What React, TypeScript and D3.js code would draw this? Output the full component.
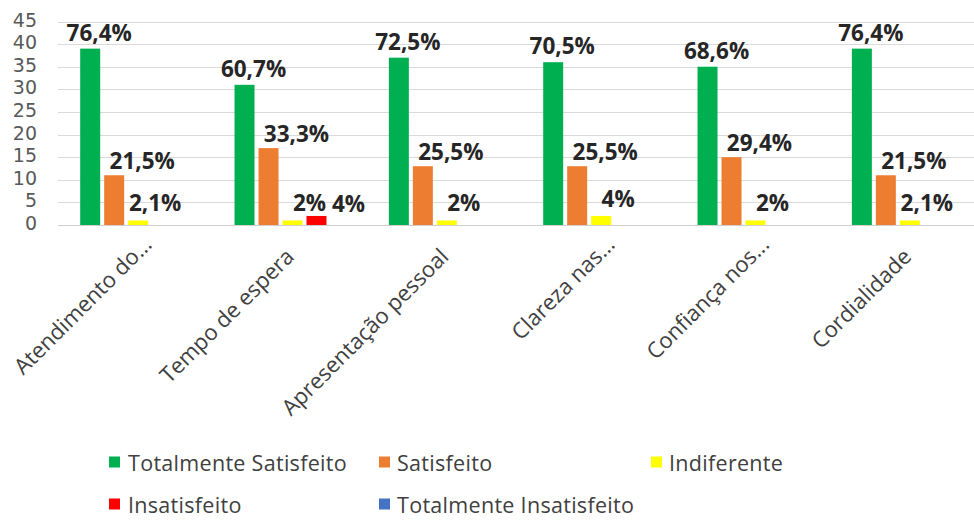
import React from "react";
import * as d3 from "d3";

const categories = [
  "Atendimento do...",
  "Tempo de espera",
  "Apresentação pessoal",
  "Clareza nas...",
  "Confiança nos...",
  "Cordialidade",
];
const seriesNames = [
  "Totalmente Satisfeito",
  "Satisfeito",
  "Indiferente",
  "Insatisfeito",
  "Totalmente Insatisfeito",
];
const totalmenteSatisfeito = [39, 31, 37, 36, 35, 39];
const satisfeito = [11, 17, 13, 13, 15, 11];
const indiferente = [1, 1, 1, 2, 1, 1];
const insatisfeito = [0, 2, 0, 0, 0, 0];
const totalmenteInsatisfeito = [0, 0, 0, 0, 0, 0];

const labelsTotSat = ["76,4%", "60,7%", "72,5%", "70,5%", "68,6%", "76,4%"];
const labelsSat = ["21,5%", "33,3%", "25,5%", "25,5%", "29,4%", "21,5%"];
const labelsInd = ["2,1%", "2%", "2%", "4%", "2%", "2,1%"];
const labelsInsat = ["", "4%", "", "", "", ""];
const labelsTotInsat = ["", "", "", "", "", ""];

const yTicks = [0, 5, 10, 15, 20, 25, 30, 35, 40, 45];

const seriesValues = [
  totalmenteSatisfeito,
  satisfeito,
  indiferente,
  insatisfeito,
  totalmenteInsatisfeito,
];
const seriesLabels = [labelsTotSat, labelsSat, labelsInd, labelsInsat, labelsTotInsat];

const colors = ["#00b050", "#ed7d31", "#ffff00", "#ff0000", "#4472c4"];
// label offsets per series (style, not data)
const labelDx = [9, 28, 17, 32, 0];
const labelDy = [8, 6, 9, 4, 4];

const W = 974;
const H = 520;

export default function App() {
  const x = d3.scaleBand<string>().domain(categories).range([61, 987]).paddingInner(0).paddingOuter(0);
  const xs = d3
    .scaleBand<string>()
    .domain(seriesNames)
    .range([0, x.bandwidth()])
    .paddingInner(1 / 6)
    .paddingOuter(0.8);
  const y = d3.scaleLinear().domain([0, 45]).range([225, 21.5]);

  const legendRows = [
    [
      { i: 0, sx: 109, tx: 128, cy: 462 },
      { i: 1, sx: 379, tx: 397, cy: 462 },
      { i: 2, sx: 651, tx: 669, cy: 462 },
    ],
    [
      { i: 3, sx: 109, tx: 128, cy: 504 },
      { i: 4, sx: 379, tx: 397, cy: 504 },
    ],
  ];

  return (
    <svg
      width={W}
      height={H}
      style={{ position: "absolute", left: 0, top: 0, background: "#fff" }}
      fontFamily="'Open Sans', sans-serif"
    >
      <rect x={0} y={0} width={W} height={H} fill="#fff" />
      {/* gridlines */}
      {yTicks.map((t) => (
        <line
          key={"g" + t}
          x1={58}
          x2={W}
          y1={Math.round(y(t)) + 0.5}
          y2={Math.round(y(t)) + 0.5}
          stroke={t === 0 ? "#cfcfcf" : "#dadada"}
          strokeWidth={1.2}
        />
      ))}
      {/* y tick labels */}
      {yTicks.map((t) => (
        <text
          key={"yt" + t}
          x={37}
          y={y(t) - 2}
          textAnchor="end"
          dominantBaseline="central"
          fontSize={19}
          fontFamily="'DejaVu Sans', sans-serif"
          fill="#595959"
        >
          {t}
        </text>
      ))}
      {/* bars */}
      {categories.map((c, ci) => (
        <g key={"c" + ci} transform={`translate(${x(c)},0)`}>
          {seriesNames.map((s, si) => {
            const v = seriesValues[si][ci];
            if (!v) return null;
            return (
              <rect
                key={s}
                x={xs(s)}
                y={y(v)}
                width={xs.bandwidth()}
                height={y(0) - y(v)}
                fill={colors[si]}
              />
            );
          })}
        </g>
      ))}
      {/* data labels */}
      {categories.map((c, ci) =>
        seriesNames.map((s, si) => {
          const lab = seriesLabels[si][ci];
          if (!lab) return null;
          const v = seriesValues[si][ci];
          const cx = (x(c) as number) + (xs(s) as number) + xs.bandwidth() / 2;
          return (
            <text
              key={"l" + ci + "-" + si}
              x={cx + labelDx[si]}
              y={y(v) - labelDy[si]}
              textAnchor="middle"
              fontSize={22.5}
              fontWeight={700}
              fill="#262626"
            >
              {lab}
            </text>
          );
        })
      )}
      {/* category labels */}
      {categories.map((c) => {
        const cx = (x(c) as number) + x.bandwidth() / 2;
        const shift = c.endsWith("...") ? 8.5 : -8.5;
        return (
          <text
            key={"cat" + c}
            transform={`translate(${cx + 9},252) rotate(-45)`}
            x={shift}
            textAnchor="end"
            fontSize={22}
            fill="#404040"
          >
            {c}
          </text>
        );
      })}
      {/* legend */}
      {legendRows.map((row, ri) =>
        row.map((e) => (
          <g key={"lg" + ri + e.i}>
            <rect x={e.sx} y={e.cy - 5.5} width={11} height={11} fill={colors[e.i]} />
            <text
              x={e.tx}
              y={e.cy}
              dominantBaseline="central"
              fontSize={21.5}
              letterSpacing={0.3}
              fill="#404040"
            >
              {seriesNames[e.i]}
            </text>
          </g>
        ))
      )}
    </svg>
  );
}
